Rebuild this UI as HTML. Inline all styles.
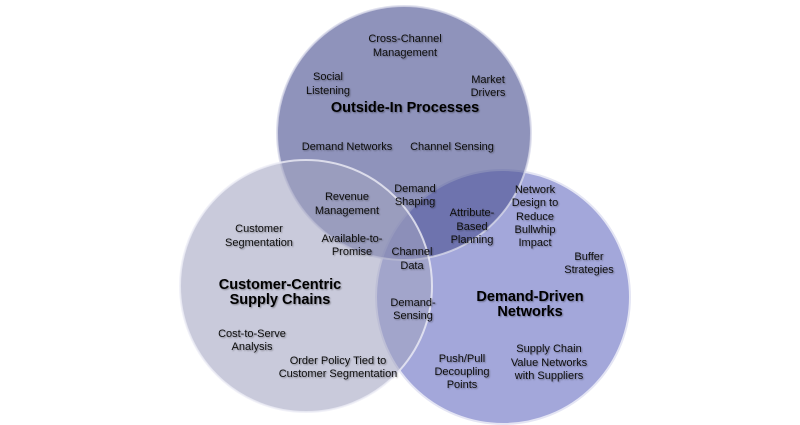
<!DOCTYPE html>
<html><head><meta charset="utf-8"><style>
html,body{margin:0;padding:0;background:#fff;}
svg{display:block;}
text{font-family:"Liberation Sans",Arial,sans-serif;font-size:11px;fill:#111;text-anchor:middle;dominant-baseline:middle;}
.t{font-size:14.5px;font-weight:bold;fill:#000;}
</style></head><body>
<svg width="800" height="425" viewBox="0 0 800 425">
<defs>
<filter id="sh" x="-10%" y="-10%" width="120%" height="130%"><feDropShadow dx="1" dy="1" stdDeviation="0.8" flood-color="#000" flood-opacity="0.35"/></filter>
</defs>
<circle cx="503" cy="297" r="127" fill="rgb(120,125,200)" fill-opacity="0.68" stroke="#e4e5f4" stroke-width="2"/>
<circle cx="404" cy="133" r="127" fill="rgb(80,86,149)" fill-opacity="0.64" stroke="#d8d9ea" stroke-width="2" stroke-opacity="0.8"/>
<circle cx="306" cy="286" r="126" fill="rgb(162,164,193)" fill-opacity="0.58" stroke="#eeeef6" stroke-width="2" stroke-opacity="0.8"/>
<g filter="url(#sh)">
<text x="405" y="39">Cross-Channel</text><text x="405" y="53">Management</text>
<text x="328" y="77">Social</text><text x="328" y="91">Listening</text>
<text x="488" y="80">Market</text><text x="488" y="93">Drivers</text>
<text class="t" x="405" y="108">Outside-In Processes</text>
<text x="347" y="147">Demand Networks</text>
<text x="452" y="147">Channel Sensing</text>
<text x="415" y="189">Demand</text><text x="415" y="202">Shaping</text>
<text x="347" y="197">Revenue</text><text x="347" y="211">Management</text>
<text x="535" y="190">Network</text><text x="535" y="203">Design to</text><text x="535" y="217">Reduce</text><text x="535" y="230">Bullwhip</text><text x="535" y="243">Impact</text>
<text x="472" y="213">Attribute-</text><text x="472" y="227">Based</text><text x="472" y="240">Planning</text>
<text x="259" y="229">Customer</text><text x="259" y="243">Segmentation</text>
<text x="352" y="239">Available-to-</text><text x="352" y="252">Promise</text>
<text x="412" y="252">Channel</text><text x="412" y="266">Data</text>
<text x="589" y="257">Buffer</text><text x="589" y="270">Strategies</text>
<text class="t" x="280" y="285">Customer-Centric</text><text class="t" x="280" y="300">Supply Chains</text>
<text class="t" x="530" y="297">Demand-Driven</text><text class="t" x="530" y="312">Networks</text>
<text x="413" y="303">Demand-</text><text x="413" y="316">Sensing</text>
<text x="252" y="334">Cost-to-Serve</text><text x="252" y="347">Analysis</text>
<text x="338" y="361">Order Policy Tied to</text><text x="338" y="374">Customer Segmentation</text>
<text x="462" y="359">Push/Pull</text><text x="462" y="372">Decoupling</text><text x="462" y="385">Points</text>
<text x="549" y="349">Supply Chain</text><text x="549" y="363">Value Networks</text><text x="549" y="376">with Suppliers</text>
</g>
</svg>
</body></html>
